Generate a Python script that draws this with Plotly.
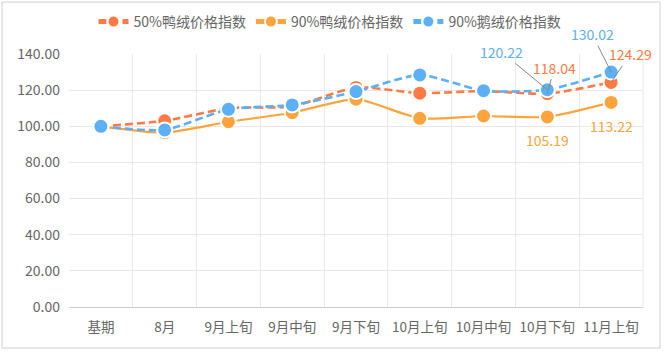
import plotly.graph_objects as go

categories = ["基期", "8月", "9月上旬", "9月中旬", "9月下旬", "10月上旬", "10月中旬", "10月下旬", "11月上旬"]
duck50 = [100, 103.0, 110.0, 111.0, 121.5, 118.3, 119.5, 118.04, 124.29]
duck90 = [100, 96.5, 102.5, 107.5, 115.0, 104.4, 105.7, 105.19, 113.22]
goose90 = [100, 98.0, 109.4, 111.8, 119.2, 128.4, 119.7, 120.22, 130.02]
series_names = ["50%鸭绒价格指数", "90%鸭绒价格指数", "90%鹅绒价格指数"]
y_ticks = [0, 20, 40, 60, 80, 100, 120, 140]

RED = "#ff7a45"
ORANGE = "#ffa33c"
BLUE = "#5cb0f5"
FONT = "Noto Sans CJK SC"

fig = go.Figure()
for name, vals, color, dash, width in [
    (series_names[0], duck50, RED, "8px,4px", 2.6),
    (series_names[1], duck90, ORANGE, "solid", 2.2),
    (series_names[2], goose90, BLUE, "8px,4px", 2.6),
]:
    fig.add_trace(go.Scatter(
        x=categories, y=vals, name=name, mode="lines+markers",
        line=dict(color=color, width=width, dash=dash, shape="spline", smoothing=0.6),
        marker=dict(size=15, color=color, line=dict(color="white", width=2)),
    ))

# labels for last two points
def lab(i, vals, color, ax, ay, arrow=True, yshift=0):
    d = dict(x=categories[i], y=vals[i], text=f"{vals[i]:.2f}",
             font=dict(family=FONT, size=14, color=color))
    if arrow:
        d.update(showarrow=True, ax=ax, ay=ay, arrowhead=0, arrowwidth=1,
                 arrowcolor="#888888", standoff=0)
    else:
        d.update(showarrow=False, yshift=yshift)
    fig.add_annotation(**d)

lab(7, goose90, BLUE, -46, -38)
lab(7, duck50, RED, 7, -26)
lab(8, goose90, BLUE, -19, -38)
lab(8, duck50, RED, 19, -28)
lab(7, duck90, ORANGE, 0, 0, arrow=False, yshift=-23)
lab(8, duck90, ORANGE, 0, 0, arrow=False, yshift=-24)

W, H = 664, 353
L, R, T, B = 69, 21, 54, 46
pw, ph = W - L - R, H - T - B
fig.add_shape(type="rect", xref="paper", yref="paper",
              x0=(2 - L) / pw, x1=(660 - L) / pw,
              y0=-(348 - (H - B)) / ph, y1=(H - B - 2) / ph,
              line=dict(color="#d0d0d0", width=1), fillcolor="rgba(0,0,0,0)", layer="below")

fig.update_layout(
    width=W, height=H,
    margin=dict(l=L, r=R, t=T, b=B, autoexpand=False),
    paper_bgcolor="white", plot_bgcolor="white",
    font=dict(family=FONT, size=14, color="#666666"),
    showlegend=True,
    legend=dict(orientation="h", xref="container", x=330 / W, xanchor="center",
                yref="container", y=1 - 22 / H, yanchor="middle",
                font=dict(family=FONT, size=14, color="#666666"),
                itemwidth=30, itemsizing="constant", tracegroupgap=0,
                bgcolor="rgba(0,0,0,0)"),
    xaxis=dict(type="category", range=[-0.5, 8.5], tickson="boundaries",
               showgrid=True, gridcolor="#e8e8e8", gridwidth=1,
               showline=True, linecolor="#cccccc", ticks="", ticklen=0,
               tickangle=0, ticklabelstandoff=8,
               tickfont=dict(family=FONT, size=13.5, color="#666666"), fixedrange=True),
    yaxis=dict(range=[0, 140], tickvals=y_ticks, tickformat=".2f",
               showgrid=True, gridcolor="#e8e8e8", gridwidth=1, zeroline=False,
               showline=False, ticks="", ticklabelstandoff=8,
               tickfont=dict(family=FONT, size=14, color="#666666"), fixedrange=True),
)
fig.add_shape(type="line", xref="paper", yref="paper", x0=1, x1=1, y0=0, y1=1,
              line=dict(color="#e8e8e8", width=1))

fig.write_html("out.html")
